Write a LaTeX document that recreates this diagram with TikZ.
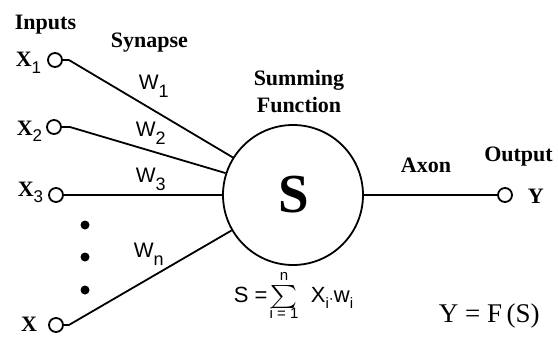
\documentclass[tikz,border=0pt]{standalone}
\usepackage{amsmath}
\usepackage{graphicx}
\usepackage{fontspec}
\setmainfont{Liberation Serif}
\setsansfont{Liberation Sans}
\usepackage{tikz}
\usetikzlibrary{
	positioning,
	calc
}

\newcommand{\xin}[1]{X\raisebox{-6pt}{\sffamily\mdseries\fontsize{17}{17}\selectfont #1}}
\newcommand{\wsyn}[1]{W\raisebox{-8pt}{\fontsize{18}{18}\selectfont #1}}
\newcommand{\idx}{\raisebox{-6pt}{\fontsize{15}{15}\selectfont i}}

\begin{document}
\begin{tikzpicture}[
			x=1pt, y=1pt,
			line width=1.8pt,
			rotulo/.style={font=\bfseries\fontsize{22}{27}\selectfont, inner sep=0pt},
			peso/.style={font=\sffamily\fontsize{21}{24}\selectfont, inner sep=0pt},
			formula/.style={font=\sffamily\fontsize{22}{26}\selectfont, inner sep=0pt},
			limite/.style={font=\sffamily\fontsize{15}{17}\selectfont, inner sep=0pt, anchor=base},
			porta/.style={draw, circle, minimum size=14pt, inner sep=0pt},
			ponto/.style={fill, circle, minimum size=9pt, inner sep=0pt},
			soma/.style={draw, circle, minimum size=140pt, inner sep=0pt}
		]

		\useasboundingbox (0,0) rectangle (558,349);

		\node[rotulo, anchor=base] (inputs) at (45.5,319) {Inputs};
		\node[rotulo, anchor=base] (synapse) at (149.5,301) {Synapse};

		\node[porta] (x1) at (55,289) {};
		\node[porta] (x2) at (54,222) {};
		\node[porta] (x3) at (56,154) {};
		\node[porta] (xn) at (56,24) {};

		\node[rotulo, anchor=base east] (lx1) at (42,282) {\xin{1}};
		\node[rotulo, anchor=base east] (lx2) at (43,214) {\xin{2}};
		\node[rotulo, anchor=base east] (lx3) at (44,153) {\xin{3}};
		\node[rotulo, anchor=base east] (lxn) at (38,17.5) {X};

		\node[ponto] (d1) at (85,124) {};
		\node[ponto] (d2) at (85,92) {};
		\node[ponto] (d3) at (85,59) {};

		\node[soma] (s) at (293,154) {};
		\node[font=\bfseries\fontsize{55}{60}\selectfont, inner sep=0pt, anchor=base] (ls) at (294,137) {S};
		\node[rotulo, align=center] (summing) at (299,257) {Summing\\Function};

		\node[peso, anchor=base west] (w1) at (138,259) {\wsyn{1}};
		\node[peso, anchor=base west] (w2) at (135,212) {\wsyn{2}};
		\node[peso, anchor=base west] (w3) at (135,167) {\wsyn{3}};
		\node[peso, anchor=base west] (wn) at (133,92) {\wsyn{n}};

		\node[porta] (y) at (505,154) {};
		\node[rotulo, anchor=base west] (ly) at (527,146) {Y};
		\node[rotulo, anchor=base] (axon) at (426,176) {Axon};
		\node[rotulo, anchor=base] (output) at (518.5,187) {Output};

		\draw (x1.east) -- ++(6,0) -- (s.148);
		\draw (x2.east) -- ++(8,0) -- (s.162);
		\draw (x3) -- (s);
		\draw (xn.east) -- ++(5,0) -- (s.210);
		\draw (s) -- (y);

		% S = sum X_i . w_i
		\node[formula, anchor=base west] (eqs) at (233,47) {S =};
		\node[formula] (sigma) at (284,52) {\resizebox*{27pt}{23pt}{$\textstyle\sum$}};
		\node[limite] (topo) at (284,68.5) {n};
		\node[limite] (base) at (284,31) {i = 1};
		\node[formula, anchor=base west] (termo) at (310,47) {X\idx{\fontsize{15}{15}\selectfont\raisebox{-1pt}{·}}w\idx};
		\node[inner sep=0pt, anchor=base west, font=\fontsize{27}{30}\selectfont] (eqy) at (438,27) {Y = F\,(S)};
	\end{tikzpicture}
\end{document}
